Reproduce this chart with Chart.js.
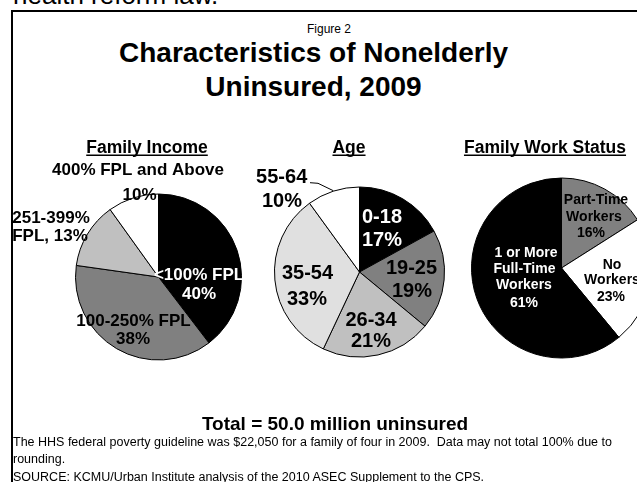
<!DOCTYPE html>
<html>
<head>
<meta charset="utf-8">
<script src="https://cdn.jsdelivr.net/npm/chart.js@4.4.0/dist/chart.umd.min.js"></script>
<style>
  html, body { margin: 0; padding: 0; background: #fff; }
  body { width: 637px; height: 482px; position: relative; overflow: hidden; font-family: "Liberation Sans", Arial, sans-serif; color: #000; }
  .abs { position: absolute; white-space: nowrap; }
  canvas { position: absolute; left: 0; top: 0; }
  #frame { position: absolute; left: 11px; top: 10px; width: 700px; height: 600px; border: 2.5px solid #000; box-sizing: border-box; }
  #lead { left: 13px; top: -18px; font-size: 26px; line-height: 26px; }
  #fig { left: 307px; top: 23px; font-size: 12px; line-height: 12px; font-family: "Liberation Sans Narrow", "Arial Narrow", "Liberation Sans", Arial, sans-serif; }
  #title { left: 0; width: 627px; top: 36px; font-size: 28px; line-height: 34px; font-weight: bold; text-align: center; }
  #total { left: 35px; width: 600px; top: 414px; font-size: 19px; line-height: 19px; font-weight: bold; text-align: center; }
  #note { left: 13px; top: 433.5px; font-size: 12.5px; line-height: 17.5px; }
</style>
</head>
<body>
<div id="frame"></div>
<div class="abs" id="lead">health reform law.</div>
<div class="abs" id="fig">Figure 2</div>
<div class="abs" id="title">Characteristics of Nonelderly<br>Uninsured, 2009</div>
<canvas id="income" width="720" height="482"></canvas>
<canvas id="age" width="720" height="482"></canvas>
<canvas id="work" width="720" height="482"></canvas>
<div class="abs" id="total">Total = 50.0 million uninsured</div>
<div class="abs" id="note">The HHS federal poverty guideline was $22,050 for a family of four in 2009.&nbsp; Data may not total 100% due to<br>rounding.<br>SOURCE: KCMU/Urban Institute analysis of the 2010 ASEC Supplement to the CPS.</div>

<script>
// uninsured by family income (% of 50.0 million)
const incomeCats = ['<100% FPL', '100-250% FPL', '251-399% FPL', '400% FPL and Above'];
const incomeVals = [40, 38, 13, 10];

// uninsured by age
const ageCats = ['0-18', '19-25', '26-34', '35-54', '55-64'];
const ageVals = [17, 19, 21, 33, 10];

// uninsured by family work status
const workCats = ['Part-Time Workers', 'No Workers', '1 or More Full-Time Workers'];
const workVals = [16, 23, 61];

const FONT = '"Liberation Sans", Arial, sans-serif';
// canvases run a bit past the right edge so the last pie can be clipped by the page
const W = 720, H = 482;

// header + slice labels, placed relative to the pie centre
const sliceLabels = {
    id: 'sliceLabels',
    afterDatasetsDraw(chart, args, opts) {
        const ctx = chart.ctx;
        const first = chart.getDatasetMeta(0).data[0];
        const cx = first.x, cy = first.y;
        const vals = chart.data.datasets[0].data;
        ctx.save();
        ctx.fillStyle = '#000';
        ctx.textAlign = 'center';
        ctx.textBaseline = 'alphabetic';
        ctx.font = 'bold 17.5px ' + FONT;
        ctx.fillText(opts.header, opts.headerX, 153);
        const hw = ctx.measureText(opts.header).width;
        ctx.fillRect(opts.headerX - hw / 2, 154.5, hw, 1.5);

        ctx.font = opts.font;
        ctx.textBaseline = 'middle';
        opts.lines.forEach((lines, i) => {
            ctx.fillStyle = opts.colors[i];
            lines.forEach((t, j) => {
                const p = opts.pos[i][j];
                ctx.fillText(t.replace('{v}', vals[i]), cx + p[0], cy + p[1]);
            });
        });

        if (opts.leader) {
            ctx.strokeStyle = '#000';
            ctx.lineWidth = 1;
            ctx.beginPath();
            opts.leader.forEach((p, k) => {
                if (k === 0) ctx.moveTo(cx + p[0], cy + p[1]);
                else ctx.lineTo(cx + p[0], cy + p[1]);
            });
            ctx.stroke();
        }
        ctx.restore();
    }
};

function makePie(id, cats, vals, fills, cx, cy, r, labelOpts) {
    const half = r + 0.5;
    return new Chart(document.getElementById(id), {
        type: 'pie',
        data: {
            labels: cats,
            datasets: [{
                data: vals,
                backgroundColor: fills,
                borderColor: '#000',
                borderWidth: 1
            }]
        },
        options: {
            responsive: false,
            animation: false,
            layout: {
                padding: { left: cx - half, top: cy - half, right: W - cx - half, bottom: H - cy - half }
            },
            plugins: {
                legend: { display: false },
                tooltip: { enabled: false },
                sliceLabels: labelOpts
            }
        },
        plugins: [sliceLabels]
    });
}

makePie('income', incomeCats, incomeVals, ['#000000', '#808080', '#c0c0c0', '#ffffff'], 158.5, 277, 83, {
    header: 'Family Income',
    headerX: 147,
    font: 'bold 17px ' + FONT,
    colors: ['#fff', '#000', '#000', '#000'],
    lines: [['<100% FPL', '{v}%'], ['100-250% FPL', '{v}%'], ['251-399%', 'FPL, {v}%'], ['400% FPL and Above', '{v}%']],
    pos: [
        [[40.5, -2], [40.5, 17]],
        [[-25, 44], [-25.5, 62]],
        [[-107.5, -58.5], [-108.5, -41]],
        [[-20.5, -106.5], [-19, -81.5]]
    ]
});

makePie('age', ageCats, ageVals, ['#000000', '#808080', '#c0c0c0', '#e0e0e0', '#ffffff'], 359.5, 272, 85, {
    header: 'Age',
    headerX: 349,
    font: 'bold 20px ' + FONT,
    colors: ['#fff', '#000', '#000', '#000', '#000'],
    lines: [['0-18', '{v}%'], ['19-25', '{v}%'], ['26-34', '{v}%'], ['35-54', '{v}%'], ['55-64', '{v}%']],
    pos: [
        [[22.5, -55], [22.5, -32]],
        [[52, -3.5], [52.5, 19.5]],
        [[11.5, 48], [11.5, 69.5]],
        [[-52, 1.5], [-52.5, 27]],
        [[-77.8, -94.5], [-77.5, -70.3]]
    ],
    leader: [[-49.5, -89.3], [-41.5, -88.7], [-26.2, -81.3]]
});

makePie('work', workCats, workVals, ['#808080', '#ffffff', '#000000'], 561.5, 268, 90, {
    header: 'Family Work Status',
    headerX: 545,
    font: 'bold 14px ' + FONT,
    colors: ['#000', '#000', '#fff'],
    lines: [['Part-Time', 'Workers', '{v}%'], ['No', 'Workers', '{v}%'], ['1 or More', 'Full-Time', 'Workers', '{v}%']],
    pos: [
        [[34.5, -68], [32.5, -51.3], [29.5, -34.7]],
        [[50.5, -3], [50.5, 12.5], [49.5, 28.7]],
        [[-35.5, -14.7], [-37, 0.8], [-37.5, 17.5], [-37.5, 35.3]]
    ]
});
</script>
</body>
</html>
